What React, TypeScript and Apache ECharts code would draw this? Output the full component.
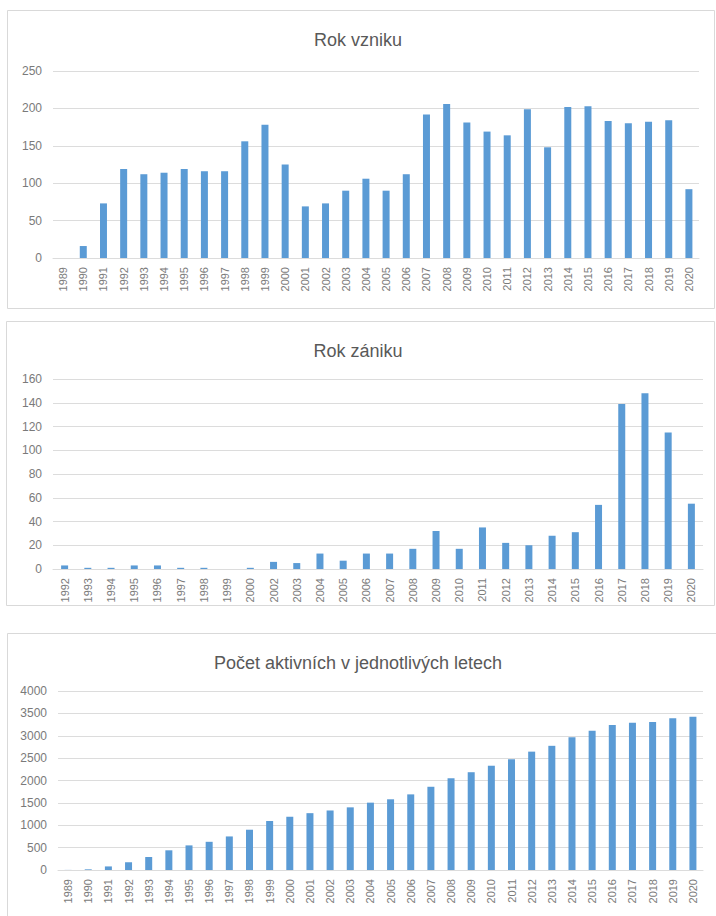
import React, { useEffect, useRef } from "react";
import * as echarts from "echarts";

const yearsAll = [
  "1989","1990","1991","1992","1993","1994","1995","1996","1997","1998","1999","2000",
  "2001","2002","2003","2004","2005","2006","2007","2008","2009","2010","2011","2012",
  "2013","2014","2015","2016","2017","2018","2019","2020",
];
const vznikValues = [
  0, 16, 73, 119, 112, 114, 119, 116, 116, 156, 178, 125,
  69, 73, 90, 106, 90, 112, 192, 206, 181, 169, 164, 199,
  148, 202, 203, 183, 180, 182, 184, 92,
];

const yearsZanik = [
  "1992","1993","1994","1995","1996","1997","1998","1999","2000","2002","2003","2004",
  "2005","2006","2007","2008","2009","2010","2011","2012","2013","2014","2015","2016",
  "2017","2018","2019","2020",
];
const zanikValues = [
  3, 1, 1, 3, 3, 1, 1, 0, 1, 6, 5, 13,
  7, 13, 13, 17, 32, 17, 35, 22, 20, 28, 31, 54,
  139, 148, 115, 55,
];

const aktivniValues = [
  2, 15, 80, 175, 290, 440, 550, 630, 750, 900, 1095, 1190,
  1270, 1330, 1400, 1505, 1580, 1690, 1860, 2050, 2185, 2330, 2475, 2645,
  2775, 2965, 3110, 3240, 3290, 3310, 3390, 3425,
];

const titles = ["Rok vzniku", "Rok zániku", "Počet aktivních v jednotlivých letech"];

const FONT = "'Liberation Sans', Arial, sans-serif";
const LABEL = "#7a7a7a";
const GRID = "#dcdcdc";
const BAR = "#5b9bd5";

export default function App() {
  const ref = useRef<HTMLDivElement>(null);
  useEffect(() => {
    if (!ref.current) return;
    const chart = echarts.init(ref.current, null, { renderer: "svg" });
    const H = 916;
    const grids = [
      { left: 53, right: 17, top: 71, bottom: H - 258 },
      { left: 53, right: 13, top: 379, bottom: H - 569 },
      { left: 58, right: 13, top: 691, bottom: H - 870 },
    ];
    const xData = [yearsAll, yearsZanik, yearsAll];
    const yCfg = [
      { max: 250, interval: 50 },
      { max: 160, interval: 20 },
      { max: 4000, interval: 500 },
    ];
    const seriesData = [vznikValues, zanikValues, aktivniValues];
    const titleTops = [26, 337, 649];
    const boxes = [
      { x: 7, y: 10, w: 707, h: 298 },
      { x: 6, y: 321, w: 708, h: 284 },
      { x: 7, y: 633, w: 709, h: 290 },
    ];
    chart.setOption({
      animation: false,
      backgroundColor: "#fff",
      textStyle: { fontFamily: FONT },
      graphic: boxes.map((b) => ({
        type: "rect",
        shape: { x: b.x + 0.5, y: b.y + 0.5, width: b.w, height: b.h },
        style: { fill: "none", stroke: "#d9d9d9", lineWidth: 1 },
        silent: true,
        z: -1,
      })),
      title: titles.map((t, i) => ({
        text: t,
        left: "center",
        top: titleTops[i],
        textStyle: { fontFamily: FONT, fontSize: 18, fontWeight: "normal", color: "#595959" },
      })),
      grid: grids,
      xAxis: xData.map((d, i) => ({
        type: "category",
        gridIndex: i,
        data: d,
        axisTick: { show: false },
        axisLine: { lineStyle: { color: GRID } },
        axisLabel: { rotate: 90, interval: 0, fontSize: 11, color: LABEL, margin: 9, fontFamily: FONT },
      })),
      yAxis: yCfg.map((c, i) => ({
        type: "value",
        gridIndex: i,
        min: 0,
        max: c.max,
        interval: c.interval,
        axisLine: { show: false },
        axisTick: { show: false },
        splitLine: { lineStyle: { color: GRID } },
        axisLabel: {
          fontSize: 12,
          color: LABEL,
          margin: 11,
          fontFamily: FONT,
          formatter: (v: number) => String(v),
        },
      })),
      series: seriesData.map((d, i) => ({
        type: "bar",
        xAxisIndex: i,
        yAxisIndex: i,
        data: d,
        barWidth: 7,
        itemStyle: { color: BAR },
      })),
    });
    return () => chart.dispose();
  }, []);
  return (
    <div
      ref={ref}
      style={{ position: "fixed", left: 0, top: 0, width: 716, height: 916, background: "#fff" }}
    />
  );
}
